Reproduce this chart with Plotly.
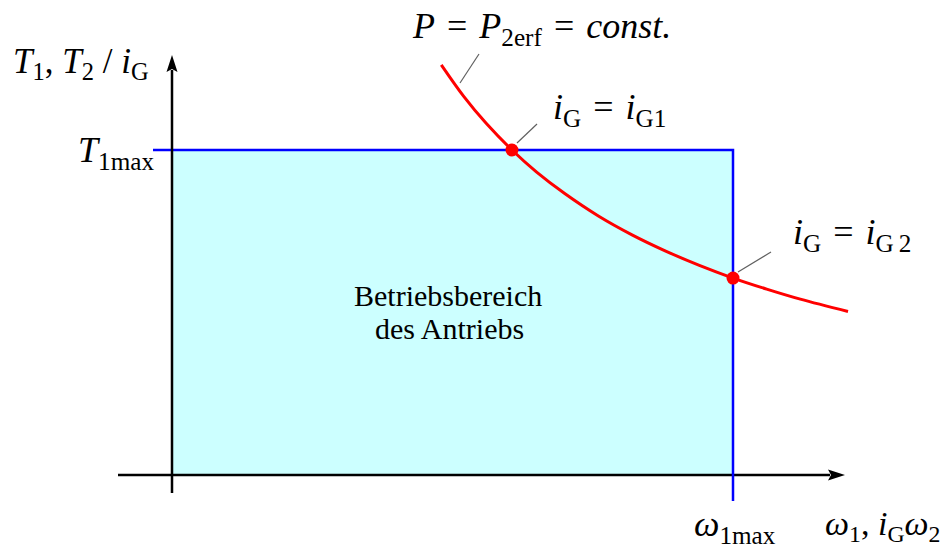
import plotly.graph_objects as go

# Operating limits of the drive (normalised units)
omega_1max = 1.0
T_1max = 1.0

# Constant-power curve P = P2erf, sampled along the speed axis
curve_omega = [0.48, 0.52, 0.56, 0.606, 0.65, 0.70, 0.76, 0.82, 0.88, 0.94, 1.0, 1.06, 1.12, 1.205]
curve_T = [1.262, 1.165, 1.082, 1.0, 0.932, 0.866, 0.797, 0.739, 0.689, 0.645, 0.606, 0.572, 0.541, 0.503]

# Operating points for the two gear ratios iG1 and iG2
op_omega = [0.606, 1.0]
op_T = [1.0, 0.606]

# Canvas geometry
W, H = 945, 551
X0, Y0 = 172, 475        # pixel position of the origin
SX, SY = 561, 325        # pixels per unit


def xd(px):
    return (px - X0) / SX


def yd(py):
    return (Y0 - py) / SY


x_tip, y_tip = xd(845), yd(55)
x_start, y_start = xd(118), yd(493)
head = 15  # arrowhead length in px

SERIF = "Liberation Serif"
MATH = 36
EQ = "\u2004=\u2004"   # math-style spacing around the equals sign

fig = go.Figure()

# Operating region
fig.add_trace(go.Scatter(
    x=[0, omega_1max, omega_1max, 0, 0], y=[0, 0, T_1max, T_1max, 0],
    mode="lines", fill="toself", fillcolor="#CCFFFF",
    line=dict(width=0), hoverinfo="skip"))

# Horizontal axis
fig.add_trace(go.Scatter(
    x=[x_start, x_tip - head / SX], y=[0, 0], mode="lines",
    line=dict(color="black", width=2.5), hoverinfo="skip"))

# Limits T1max and omega1max
fig.add_trace(go.Scatter(
    x=[xd(153), omega_1max, omega_1max], y=[T_1max, T_1max, yd(501)],
    mode="lines", line=dict(color="#0000FF", width=2.5), hoverinfo="skip"))

# Vertical axis
fig.add_trace(go.Scatter(
    x=[0, 0], y=[y_start, y_tip - head / SY], mode="lines",
    line=dict(color="black", width=2.5), hoverinfo="skip"))

# Constant-power hyperbola
fig.add_trace(go.Scatter(
    x=curve_omega, y=curve_T, mode="lines", line_shape="spline",
    line=dict(color="#FF0000", width=3), hoverinfo="skip"))

# Operating points
fig.add_trace(go.Scatter(
    x=op_omega, y=op_T, mode="markers",
    marker=dict(color="#FF0000", size=13), hoverinfo="skip"))

# Arrowheads
shapes = [
    dict(type="path", xref="x", yref="y", xsizemode="pixel", ysizemode="pixel",
         xanchor=x_tip, yanchor=0, path="M0,0 L-17,-5.5 L-14,0 L-17,5.5 Z",
         fillcolor="black", line=dict(width=0), layer="above"),
    dict(type="path", xref="x", yref="y", xsizemode="pixel", ysizemode="pixel",
         xanchor=0, yanchor=y_tip, path="M0,0 L-5.5,-17 L0,-14 L5.5,-17 Z",
         fillcolor="black", line=dict(width=0), layer="above"),
]

# Leader lines to the labels
for (a, b, c, d) in [(479, 54, 460, 83), (537, 124, 517, 143), (771, 252, 738, 272)]:
    shapes.append(dict(type="line", xref="x", yref="y",
                       x0=xd(a), y0=yd(b), x1=xd(c), y1=yd(d),
                       line=dict(color="#606060", width=1.2), layer="above"))

labels = [
    ("<i>T</i><sub>1</sub>, <i>T</i><sub>2</sub> / <i>i</i><sub>G</sub>", 11, 63, "left", 35),
    ("<i>T</i><sub>1max</sub>", 156, 152, "right", MATH),
    ("<i>P</i>" + EQ + "<i>P</i><sub>2erf</sub>" + EQ + "<i>const.</i>", 410, 28, "left", MATH),
    ("<i>i</i><sub>G</sub>" + EQ + "<i>i</i><sub>G1</sub>", 551, 109, "left", MATH),
    ("<i>i</i><sub>G</sub>" + EQ + "<i>i</i><sub>G\u20092</sub>", 791, 234, "left", MATH),
    ("<i>ω</i><sub>1max</sub>", 692, 526, "left", MATH),
    ("<i>ω</i><sub>1</sub>, <i>i</i><sub>G</sub><i>ω</i><sub>2</sub>", 823, 526, "left", 34),
    ("Betriebsbereich", 448, 295, "center", 30),
    ("des Antriebs", 449, 328, "center", 30),
]
annotations = [
    dict(text=t, x=xd(px), y=yd(py), xref="x", yref="y",
         xanchor=anc, yanchor="middle", showarrow=False,
         font=dict(family=SERIF, size=s, color="black"))
    for (t, px, py, anc, s) in labels
]

fig.update_layout(
    width=W, height=H, margin=dict(l=0, r=0, t=0, b=0),
    paper_bgcolor="white", plot_bgcolor="white", showlegend=False,
    font=dict(family=SERIF, color="black"),
    xaxis=dict(range=[xd(0), xd(W)], visible=False),
    yaxis=dict(range=[yd(H), yd(0)], visible=False),
    shapes=shapes, annotations=annotations,
)

fig.write_html("out.html")
